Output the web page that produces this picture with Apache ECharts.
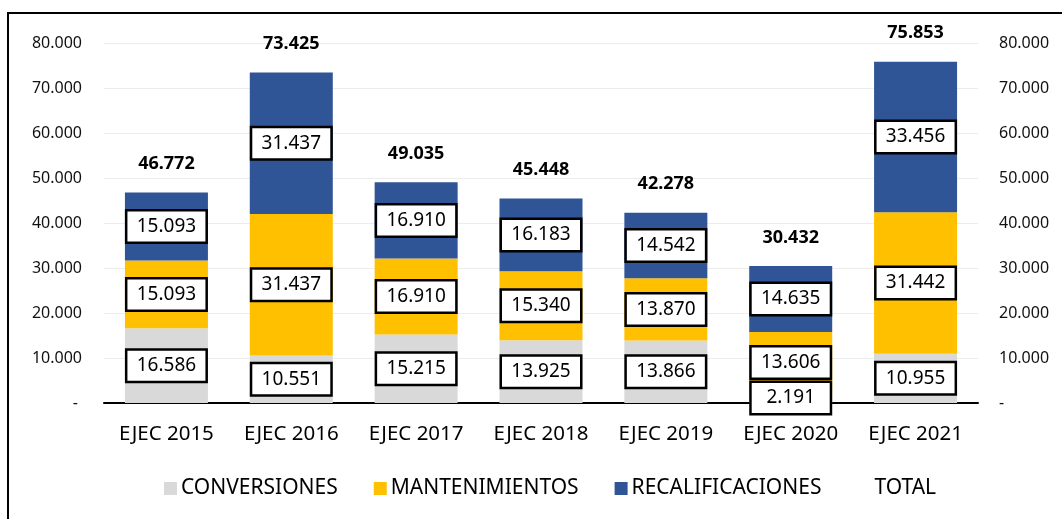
<!DOCTYPE html>
<html>
<head>
<meta charset="utf-8">
<script src="https://cdn.jsdelivr.net/npm/echarts@6/dist/echarts.min.js"></script>
<style>
  html, body { margin: 0; padding: 0; background: #fff; }
  #chart { width: 1062px; height: 519px; }
</style>
</head>
<body>
<div id="chart"></div>
<script>
// datos
var categories = ['EJEC 2015', 'EJEC 2016', 'EJEC 2017', 'EJEC 2018', 'EJEC 2019', 'EJEC 2020', 'EJEC 2021'];
var conversiones = [16586, 10551, 15215, 13925, 13866, 2191, 10955];
var mantenimientos = [15093, 31437, 16910, 15340, 13870, 13606, 31442];
var recalificaciones = [15093, 31437, 16910, 16183, 14542, 14635, 33456];
var totales = [46772, 73425, 49035, 45448, 42278, 30432, 75853];

function fmt(v) {
  if (v === 0) return '- ';
  return String(Math.round(v)).replace(/\B(?=(\d{3})+(?!\d))/g, '.');
}

var font = '"Noto Sans", sans-serif';

var boxLabel = {
  show: true,
  position: 'inside',
  formatter: function (p) { return fmt(p.value); },
  color: '#000',
  fontFamily: font,
  fontSize: 19,
  backgroundColor: '#fff',
  borderColor: '#000',
  borderWidth: 2.5,
  width: 64,
  height: 25,
  lineHeight: 25,
  align: 'center',
  padding: [3, 7, 2, 7]
};

var chart = echarts.init(document.getElementById('chart'));
chart.setOption({
  animation: false,
  textStyle: { fontFamily: font },
  graphic: [{
    type: 'rect',
    shape: { x: 8, y: 13, width: 1200, height: 700 },
    style: { fill: 'none', stroke: '#000', lineWidth: 2 },
    silent: true
  }],
  legend: {
    left: 159,
    top: 473,
    itemWidth: 13,
    itemHeight: 13,
    itemGap: 36,
    textStyle: { fontFamily: font, fontSize: 21, color: '#000', padding: [0, 0, 0, -1] },
    data: [
      { name: 'CONVERSIONES', icon: 'rect' },
      { name: 'MANTENIMIENTOS', icon: 'rect' },
      { name: 'RECALIFICACIONES', icon: 'rect' },
      { name: 'TOTAL', icon: 'rect', itemStyle: { opacity: 0 } }
    ]
  },
  grid: { left: 104, right: 84, top: 43, bottom: 116 },
  xAxis: {
    type: 'category',
    data: categories,
    axisTick: { show: false },
    axisLine: { lineStyle: { color: '#000', width: 2 } },
    axisLabel: { color: '#000', fontFamily: font, fontSize: 20.5, margin: 21, interval: 0 }
  },
  yAxis: [{
    type: 'value',
    min: 0,
    max: 80000,
    interval: 10000,
    axisLine: { show: false },
    axisTick: { show: false },
    splitLine: { lineStyle: { color: '#ececec', width: 1 } },
    axisLabel: { color: '#111', fontFamily: font, fontSize: 16, margin: 22, formatter: fmt }
  }, {
    type: 'value',
    position: 'right',
    min: 0,
    max: 80000,
    interval: 10000,
    axisLine: { show: false },
    axisTick: { show: false },
    splitLine: { show: false },
    axisLabel: { color: '#111', fontFamily: font, fontSize: 16, margin: 21, formatter: fmt }
  }],
  series: [{
    name: 'CONVERSIONES',
    type: 'bar',
    stack: 'total',
    barWidth: 83,
    itemStyle: { color: '#D9D9D9' },
    label: boxLabel,
    data: conversiones
  }, {
    name: 'MANTENIMIENTOS',
    type: 'bar',
    stack: 'total',
    barWidth: 83,
    itemStyle: { color: '#FFC000' },
    label: boxLabel,
    data: mantenimientos
  }, {
    name: 'RECALIFICACIONES',
    type: 'bar',
    stack: 'total',
    barWidth: 83,
    itemStyle: { color: '#2F5597' },
    label: boxLabel,
    data: recalificaciones
  }, {
    name: 'TOTAL',
    type: 'line',
    symbol: 'circle',
    symbolSize: 1,
    itemStyle: { color: 'rgba(0,0,0,0)' },
    lineStyle: { opacity: 0 },
    label: {
      show: true,
      position: 'top',
      distance: 19,
      color: '#000',
      fontFamily: font,
      fontSize: 18,
      fontWeight: 'bold',
      formatter: function (p) { return fmt(p.value); }
    },
    z: 5,
    data: totales
  }]
});
</script>
</body>
</html>
